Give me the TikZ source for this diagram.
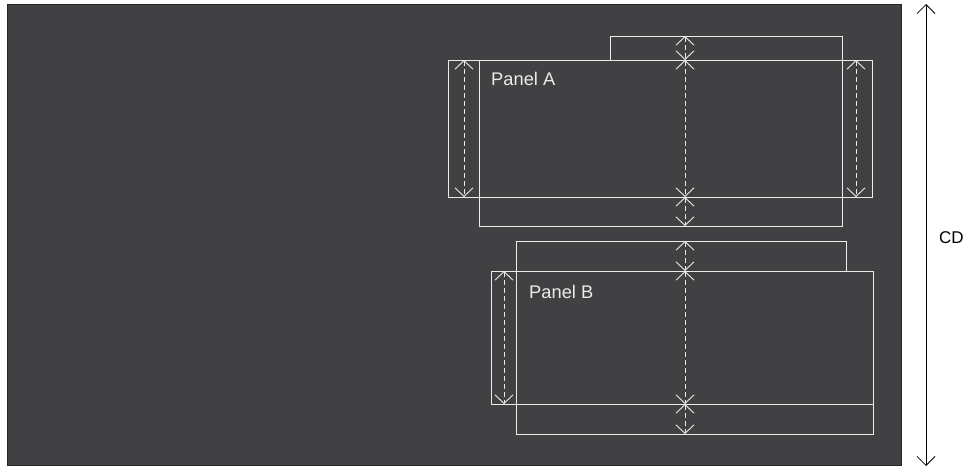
\documentclass[tikz,border=0pt]{standalone}
\usepackage{fontspec}
\setmainfont{Liberation Sans}
\usetikzlibrary{arrows.meta}
\definecolor{slate}{RGB}{65,65,67}
\definecolor{chalk}{RGB}{235,235,235}
\tikzset{
  pane/.style={draw=chalk, line width=1pt},
  span/.style={draw=chalk, line width=0.9pt, dash pattern=on 5pt off 3pt,
    {Straight Barb[length=8.5pt,width=18pt]}-{Straight Barb[length=8.5pt,width=18pt]}},
  label/.style={text=chalk, font=\fontsize{18.3}{20}\selectfont, anchor=base west, inner sep=0pt}
}

\begin{document}
\begin{tikzpicture}[x=1pt, y=-1pt]
		\useasboundingbox (0,0) rectangle (979,469);
		\path [fill=slate, draw=black!85, line width=1pt] (7,4) rectangle (901,465);

		% panel A
		\path coordinate (a nw) at (448,60);
		\path (a nw) ++(424,137) coordinate (a se);
		\path [pane] (a nw) rectangle (a se);
		\path (610,60) coordinate (a tab);
		\path (a tab) ++(0,-24) coordinate (a tab n);
		\path (842,36) coordinate (a ne);
		\path (a ne) ++(0,190) coordinate (a se');
		\path (479,226) coordinate (a sw');
		\path (a sw') ++(0,-166) coordinate (a nw');
		\path [pane] (a tab) -- (a tab n) -- (a ne) -- (a se') -- (a sw') -- (a nw');
		\path (491,85) node [label] (labA) {Panel A};

		\path (464,60) coordinate (al1);
		\path (al1) ++(0,137) coordinate (al2);
		\path (856,60) coordinate (ar1);
		\path (ar1) ++(0,137) coordinate (ar2);
		\path (685,36) coordinate (am0);
		\path (am0) ++(0,24) coordinate (am1);
		\path (am1) ++(0,137) coordinate (am2);
		\path (am2) ++(0,29) coordinate (am3);
		\path [span] (al1) -- (al2);
		\path [span] (ar1) -- (ar2);
		\path [span] (am0) -- (am1);
		\path [span] (am1) -- (am2);
		\path [span] (am2) -- (am3);

		% panel B
		\path coordinate (b nw) at (491,271);
		\path (b nw) ++(382,133) coordinate (b se);
		\path [pane] (b nw) rectangle (b se);
		\path (846,271) coordinate (b tab);
		\path (b tab) ++(0,-30) coordinate (b tab n);
		\path (516,241) coordinate (b nw');
		\path (b nw') ++(0,193) coordinate (b sw');
		\path (873,434) coordinate (b se');
		\path (b se') ++(0,-30) coordinate (b e');
		\path [pane] (b tab) -- (b tab n) -- (b nw') -- (b sw') -- (b se') -- (b e');
		\path (529,298) node [label] (labB) {Panel B};

		\path (504,271) coordinate (bl1);
		\path (bl1) ++(0,133) coordinate (bl2);
		\path (685,241) coordinate (bm0);
		\path (bm0) ++(0,30) coordinate (bm1);
		\path (bm1) ++(0,133) coordinate (bm2);
		\path (bm2) ++(0,30) coordinate (bm3);
		\path [span] (bl1) -- (bl2);
		\path [span] (bm0) -- (bm1);
		\path [span] (bm1) -- (bm2);
		\path [span] (bm2) -- (bm3);

		% overall height
		\path (926,4) coordinate (cd top);
		\path (cd top) ++(0,462) coordinate (cd bot);
		\path [draw=black, line width=0.8pt, {Straight Barb[length=9pt,width=18pt]}-{Straight Barb[length=9pt,width=18pt]}] (cd top) -- (cd bot);
		\path (939,238) node [anchor=west, inner sep=0pt, font=\fontsize{17}{19}\selectfont] (cd) {CD};
	\end{tikzpicture}
\end{document}
